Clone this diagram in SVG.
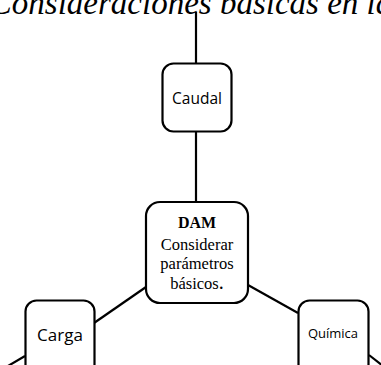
<svg xmlns="http://www.w3.org/2000/svg" width="381" height="365" viewBox="0 0 381 365">
<style>
.box{fill:#fff;stroke:#000;stroke-width:2.2}
.ln{stroke:#000;stroke-width:2.2;fill:none}
.sans{font-family:"Open Sans","Liberation Sans",sans-serif;fill:#000;text-anchor:middle}
.serif{font-family:"Liberation Serif","Times New Roman",serif;fill:#000;text-anchor:middle}
</style>
<rect width="381" height="365" fill="#fff"/>
<text x="191" y="14" class="serif" font-style="italic" font-size="33">Consideraciones básicas en la</text>
<g id="connectors">
<line class="ln" x1="196" y1="12" x2="196" y2="64"/>
<line class="ln" x1="196" y1="131" x2="196" y2="202"/>
<line class="ln" x1="146" y1="287" x2="94" y2="323"/>
<line class="ln" x1="248" y1="285" x2="298" y2="313"/>
<line class="ln" x1="25" y1="356" x2="8" y2="366"/>
<line class="ln" x1="369" y1="355" x2="383" y2="366"/>
</g>
<g id="caudal">
<rect class="box" x="162.5" y="63.5" width="69" height="68" rx="11"/>
<text x="197" y="104" class="sans" font-size="15.5">Caudal</text>
</g>
<g id="dam">
<rect class="box" x="146" y="202" width="102" height="101" rx="14"/>
<text x="197" y="228" class="serif" font-size="16" font-weight="bold">DAM</text>
<text x="197" y="250" class="serif" font-size="16.5">Considerar</text>
<text x="197" y="269" class="serif" font-size="16.5">parámetros</text>
<text x="197" y="289" class="serif" font-size="16.5">básicos<tspan font-size="20">.</tspan></text>
</g>
<g id="carga">
<rect class="box" x="25.5" y="300.5" width="69" height="75" rx="11"/>
<text x="60" y="341" class="sans" font-size="17">Carga</text>
</g>
<g id="quimica">
<rect class="box" x="298.5" y="300.5" width="70" height="75" rx="11"/>
<text x="333" y="338" class="sans" font-size="13">Química</text>
</g>
</svg>
